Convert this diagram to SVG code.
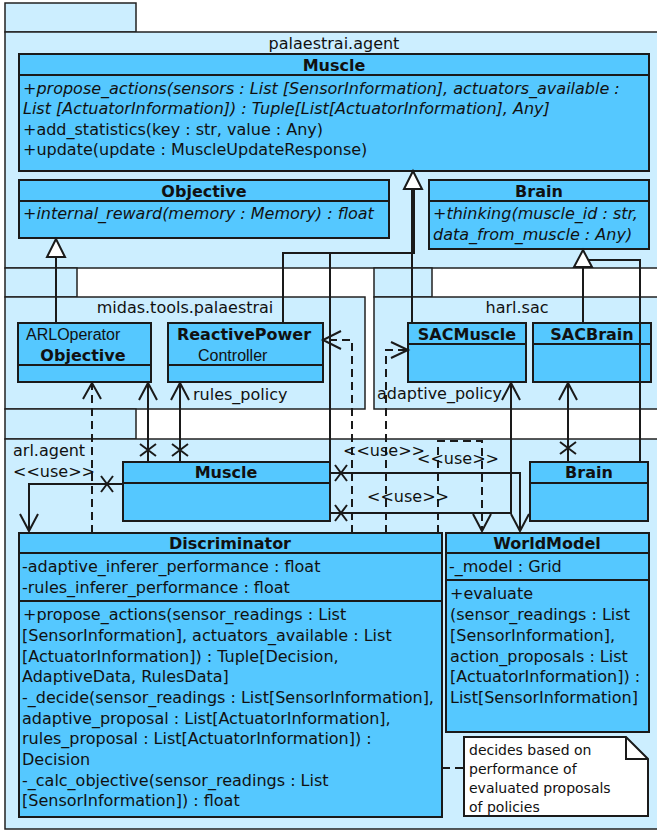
<svg xmlns="http://www.w3.org/2000/svg" width="657" height="831" viewBox="0 0 657 831">
<style>
.pkg{fill:#CCEEFF;stroke:#222;stroke-width:1.5}
.cls{fill:#55C8FF;stroke:#1a1a1a;stroke-width:2}
.sep{stroke:#1a1a1a;stroke-width:2}
.t{font-family:"DejaVu Sans",sans-serif;font-size:16px;fill:#111}
.b{font-weight:bold;text-anchor:middle}
.i{font-style:italic}
.a{font-family:"Liberation Sans",Arial,sans-serif;font-size:16px;fill:#111}
.n{font-family:"DejaVu Sans",sans-serif;font-size:14px;fill:#111}
.ln{fill:none;stroke:#1a1a1a;stroke-width:2}
.ds{fill:none;stroke:#1a1a1a;stroke-width:2;stroke-dasharray:8,5}
.tri{fill:#fff;stroke:#1a1a1a;stroke-width:2}
</style>
<rect width="657" height="831" fill="#fff"/>
<!-- packages -->
<g id="pkg-palaestrai">
<rect class="pkg" x="5" y="3" width="131" height="29"/>
<rect class="pkg" x="5" y="32" width="657" height="236"/>
<text class="t" x="334" y="49" text-anchor="middle">palaestrai.agent</text>
</g>
<g id="pkg-midas">
<rect class="pkg" x="5" y="268" width="72" height="29"/>
<rect class="pkg" x="5" y="297" width="360" height="112"/>
<text class="t" x="185" y="313" text-anchor="middle">midas.tools.palaestrai</text>
</g>
<g id="pkg-harl">
<rect class="pkg" x="374" y="268" width="58" height="29"/>
<rect class="pkg" x="374" y="297" width="290" height="112"/>
<text class="t" x="517" y="313" text-anchor="middle">harl.sac</text>
</g>
<g id="pkg-arl">
<rect class="pkg" x="5" y="409" width="131" height="30"/>
<rect class="pkg" x="5" y="439" width="657" height="390"/>
<text class="t" x="13" y="456">arl.agent</text>
</g>
<!-- classes -->
<g id="pa-muscle">
<rect class="cls" x="19" y="54" width="630" height="117"/>
<line class="sep" x1="19" y1="75" x2="649" y2="75"/>
<text class="t b" x="334" y="71">Muscle</text>
<text class="t i" x="23" y="94">+propose_actions(sensors : List [SensorInformation], actuators_available :</text>
<text class="t i" x="23" y="114">List [ActuatorInformation]) : Tuple[List[ActuatorInformation], Any]</text>
<text class="t" x="23" y="135">+add_statistics(key : str, value : Any)</text>
<text class="t" x="23" y="155">+update(update : MuscleUpdateResponse)</text>
</g>
<g id="pa-objective">
<rect class="cls" x="19" y="180" width="370" height="58"/>
<line class="sep" x1="19" y1="201" x2="389" y2="201"/>
<text class="t b" x="204" y="197">Objective</text>
<text class="t i" x="23" y="219">+internal_reward(memory : Memory) : float</text>
</g>
<g id="pa-brain">
<rect class="cls" x="429" y="180" width="220" height="69"/>
<line class="sep" x1="429" y1="201" x2="649" y2="201"/>
<text class="t b" x="539" y="197">Brain</text>
<text class="t i" x="433" y="219">+thinking(muscle_id : str,</text>
<text class="t i" x="433" y="240">data_from_muscle : Any)</text>
</g>
<g id="arl-operator-objective">
<rect class="cls" x="18" y="323" width="133" height="59"/>
<line class="sep" x1="18" y1="365" x2="151" y2="365"/>
<text class="a" x="26" y="340">ARLOperator</text>
<text class="t b" x="83" y="361">Objective</text>
</g>
<g id="reactive-power-controller">
<rect class="cls" x="168" y="323" width="155" height="59"/>
<line class="sep" x1="168" y1="365" x2="323" y2="365"/>
<text class="t b" x="244" y="340">ReactivePower</text>
<text class="a" x="198" y="361">Controller</text>
</g>
<g id="sac-muscle">
<rect class="cls" x="408" y="323" width="118" height="59"/>
<line class="sep" x1="408" y1="344" x2="526" y2="344"/>
<text class="t b" x="467" y="340">SACMuscle</text>
</g>
<g id="sac-brain">
<rect class="cls" x="533" y="323" width="118" height="59"/>
<line class="sep" x1="533" y1="344" x2="651" y2="344"/>
<text class="t b" x="592" y="340">SACBrain</text>
</g>
<g id="arl-muscle">
<rect class="cls" x="123" y="462" width="207" height="59"/>
<line class="sep" x1="123" y1="483" x2="330" y2="483"/>
<text class="t b" x="226" y="478">Muscle</text>
</g>
<g id="arl-brain">
<rect class="cls" x="530" y="462" width="118" height="59"/>
<line class="sep" x1="530" y1="483" x2="648" y2="483"/>
<text class="t b" x="589" y="478">Brain</text>
</g>
<g id="discriminator">
<rect class="cls" x="19" y="533" width="423" height="284"/>
<line class="sep" x1="19" y1="553" x2="442" y2="553"/>
<line class="sep" x1="19" y1="601" x2="442" y2="601"/>
<text class="t b" x="230" y="549">Discriminator</text>
<text class="t" x="22" y="572">-adaptive_inferer_performance : float</text>
<text class="t" x="22" y="593">-rules_inferer_performance : float</text>
<text class="t" x="23" y="620">+propose_actions(sensor_readings : List</text>
<text class="t" x="22" y="641">[SensorInformation], actuators_available : List</text>
<text class="t" x="22" y="662">[ActuatorInformation]) : Tuple[Decision,</text>
<text class="t" x="22" y="682">AdaptiveData, RulesData]</text>
<text class="t" x="22" y="703">-_decide(sensor_readings : List[SensorInformation],</text>
<text class="t" x="22" y="724">adaptive_proposal : List[ActuatorInformation],</text>
<text class="t" x="22" y="744">rules_proposal : List[ActuatorInformation]) :</text>
<text class="t" x="22" y="765">Decision</text>
<text class="t" x="22" y="786">-_calc_objective(sensor_readings : List</text>
<text class="t" x="22" y="806">[SensorInformation]) : float</text>
</g>
<g id="worldmodel">
<rect class="cls" x="446" y="533" width="203" height="199"/>
<line class="sep" x1="446" y1="553" x2="649" y2="553"/>
<line class="sep" x1="446" y1="580" x2="649" y2="580"/>
<text class="t b" x="547" y="549">WorldModel</text>
<text class="t" x="449" y="572">-_model : Grid</text>
<text class="t" x="450" y="599">+evaluate</text>
<text class="t" x="450" y="620">(sensor_readings : List</text>
<text class="t" x="450" y="641">[SensorInformation],</text>
<text class="t" x="450" y="662">action_proposals : List</text>
<text class="t" x="450" y="682">[ActuatorInformation]) :</text>
<text class="t" x="450" y="703">List[SensorInformation]</text>
</g>
<g id="note">
<path d="M464,737 H626 L648,759 V816 H464 Z" fill="#fff" stroke="#1a1a1a" stroke-width="2"/>
<path d="M626,737 V759 H648" fill="none" stroke="#1a1a1a" stroke-width="2"/>
<text class="n" x="469" y="755">decides based on</text>
<text class="n" x="469" y="774">performance of</text>
<text class="n" x="469" y="793">evaluated proposals</text>
<text class="n" x="469" y="812">of policies</text>
</g>
<!-- connectors -->
<g id="connectors">
<!-- inheritance -->
<polyline class="ln" points="56,323 56,257"/>
<polyline class="ln" points="283,323 283,253 414,253 414,189"/>
<polyline class="ln" points="330,462 330,253 414,253"/>
<polyline class="ln" points="412,323 412,189"/>
<polyline class="ln" points="583,323 583,267"/>
<polyline class="ln" points="640,462 640,260 583,260"/>
<polygon class="tri" points="56,239 47,257 65,257"/>
<polygon class="tri" points="413,171 404,189 422,189"/>
<polygon class="tri" points="583,250 574,267 592,267"/>
<!-- associations -->
<polyline class="ln" points="148,462 148,383"/>
<polyline class="ln" points="139,400 148,383 157,400"/>
<path class="ln" d="M140,444 L156,456 M156,444 L140,456"/>
<polyline class="ln" points="180,462 180,383"/>
<polyline class="ln" points="171,400 180,383 189,400"/>
<path class="ln" d="M172,444 L188,456 M188,444 L172,456"/>
<polyline class="ln" points="123,484 29,484 29,531"/>
<polyline class="ln" points="20,514 29,531 38,514"/>
<path class="ln" d="M101,476 L113,492 M113,476 L101,492"/>
<polyline class="ln" points="330,473 520,473 520,531"/>
<polyline class="ln" points="511,514 520,531 529,514"/>
<path class="ln" d="M335,465 L347,481 M347,465 L335,481"/>
<polyline class="ln" points="330,513 511,513 511,383"/>
<polyline class="ln" points="502,400 511,383 520,400"/>
<path class="ln" d="M335,505 L347,521 M347,505 L335,521"/>
<polyline class="ln" points="568,462 568,383"/>
<polyline class="ln" points="559,400 568,383 577,400"/>
<path class="ln" d="M560,442 L576,454 M576,442 L560,454"/>
<!-- dependencies -->
<polyline class="ds" points="92,533 92,384"/>
<polyline class="ln" points="83,399 92,383 101,399"/>
<polyline class="ds" points="352,533 352,340 324,340"/>
<polyline class="ln" points="341,331 323,340 341,349"/>
<polyline class="ds" points="386,533 386,350 407,350"/>
<polyline class="ln" points="391,342 408,350 391,358"/>
<polyline class="ds" points="438,533 438,441 482,441 482,530"/>
<polyline class="ln" points="473,514 482,531 491,514"/>
<line class="ds" x1="442" y1="768" x2="464" y2="768"/>
<!-- labels -->
<text class="t" x="193" y="400">rules_policy</text>
<text class="t" x="377" y="399">adaptive_policy</text>
<text class="t" x="13" y="477">&lt;&lt;use&gt;&gt;</text>
<text class="t" x="343" y="456">&lt;&lt;use&gt;&gt;</text>
<text class="t" x="417" y="464">&lt;&lt;use&gt;&gt;</text>
<text class="t" x="367" y="502">&lt;&lt;use&gt;&gt;</text>
</g>
</svg>
